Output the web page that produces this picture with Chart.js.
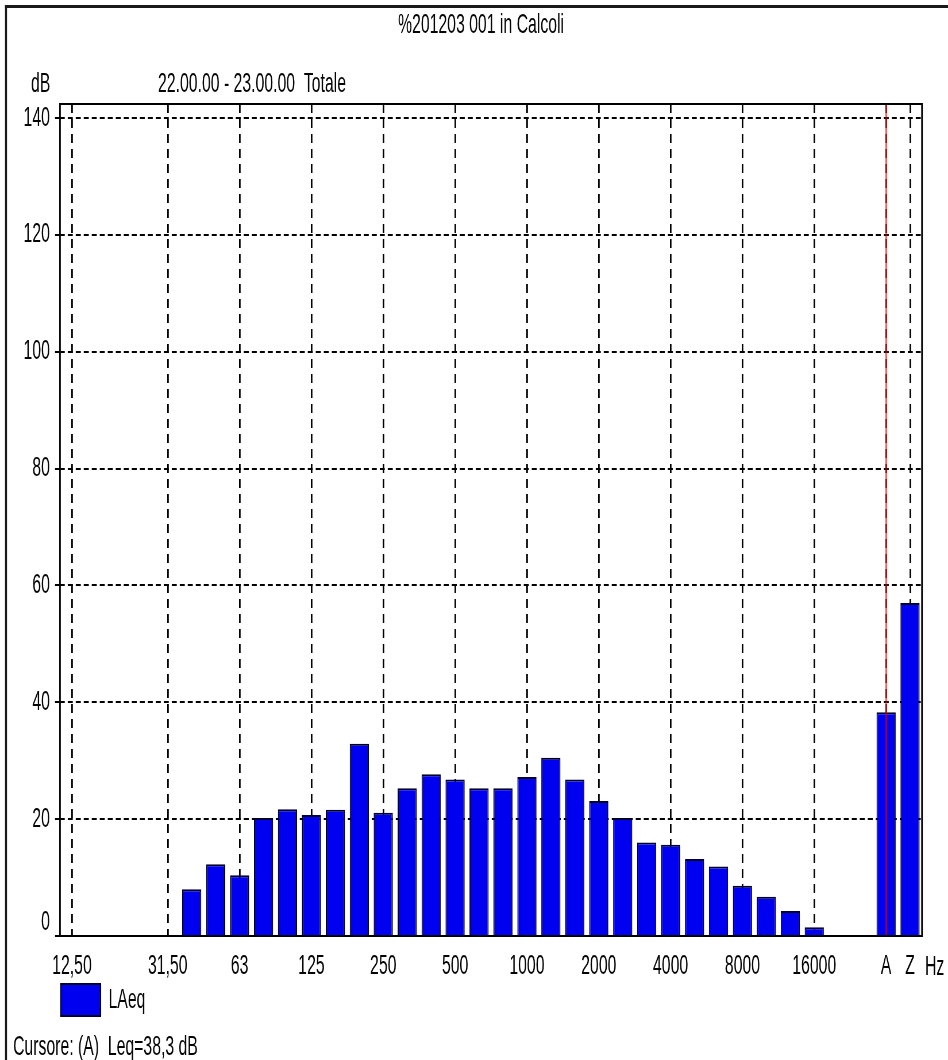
<!DOCTYPE html>
<html lang="it">
<head>
<meta charset="utf-8">
<title>%201203 001 in Calcoli</title>
<script src="https://cdn.jsdelivr.net/npm/chart.js@4.4.1/dist/chart.umd.min.js"></script>
<style>
    html, body { margin: 0; padding: 0; background: #fff; }
</style>
</head>
<body>
<!-- drawn 1650 wide and squeezed to 948px: the original screenshot is narrow-stretched -->
<canvas id="spectrum" width="1650" height="1060" style="width:948px;height:1060px"></canvas>
<script>
const SX = 1650 / 948;
const hx = v => v * SX; // screen x (px) -> canvas x

// 1/3 octave bands, an empty slot, then the A and Z weighted totals
const bands = ['12,50', '16', '20', '25', '31,50', '40', '50', '63', '80', '100', '125', '160',
    '200', '250', '315', '400', '500', '630', '800', '1000', '1250', '1600', '2000', '2500',
    '3150', '4000', '5000', '6300', '8000', '10000', '12500', '16000', '20000', '', 'A', 'Z'];
const labelledBands = ['12,50', '31,50', '63', '125', '250', '500', '1000', '2000', '4000',
    '8000', '16000', 'A', 'Z'];
const laeq = [null, null, null, null, null, 8.0, 12.3, 10.4, 20.2, 21.7, 20.7, 21.6,
    32.9, 21.1, 25.3, 27.7, 26.8, 25.3, 25.3, 27.2, 30.5, 26.8, 23.1, 20.2,
    16.0, 15.6, 13.2, 11.9, 8.6, 6.7, 4.3, 1.5, null, null, 38.3, 57.0];
const yMax = 142.4;
const yStep = 20;
const cursorBand = 'A';

const titleText = '%201203 001 in Calcoli';
const periodText = '22.00.00 - 23.00.00  Totale';
const yUnitText = 'dB';
const xUnitText = 'Hz';
const cursorText = 'Cursore: (A)  Leq=38,3 dB';

const FONT_SIZE = 27.5;
const FONT = FONT_SIZE + "px 'Liberation Sans', Arial, sans-serif";
const INK = '#050505';

Chart.defaults.font.family = "'Liberation Sans', Arial, sans-serif";
Chart.defaults.font.size = FONT_SIZE;
Chart.defaults.font.lineHeight = 1;
Chart.defaults.color = INK;

/**
 * Window frame, plot frame, cursor line and loose texts
 */
const decorPlugin = {
    id: 'decor',
    afterDatasetsDraw(chart) {
        const { ctx, chartArea: a, scales: { x } } = chart;
        ctx.save();

        // cursor on the A band
        const cx = x.getPixelForValue(bands.indexOf(cursorBand));
        ctx.strokeStyle = '#e00000';
        ctx.lineWidth = hx(1);
        ctx.beginPath();
        ctx.moveTo(cx, a.top);
        ctx.lineTo(cx, a.bottom);
        ctx.stroke();

        // plot frame
        ctx.strokeStyle = '#000';
        ctx.lineWidth = 2;
        ctx.beginPath();
        ctx.moveTo(a.left, a.top); ctx.lineTo(a.right, a.top);
        ctx.moveTo(a.left, a.bottom); ctx.lineTo(a.right, a.bottom);
        ctx.stroke();
        ctx.lineWidth = hx(1.6);
        ctx.beginPath();
        ctx.moveTo(a.left, a.top - 1); ctx.lineTo(a.left, a.bottom + 1);
        ctx.moveTo(a.right, a.top - 1); ctx.lineTo(a.right, a.bottom + 1);
        ctx.stroke();
        ctx.restore();
    },
    afterDraw(chart) {
        const { ctx, width, height } = chart;
        ctx.save();

        ctx.fillStyle = '#1a1a1a';
        ctx.fillRect(hx(5), 5, width - hx(5), 3);
        ctx.fillRect(hx(5), 5, hx(2), height - 5);

        ctx.fillStyle = INK;
        ctx.font = FONT;
        ctx.textBaseline = 'middle';
        ctx.textAlign = 'center';
        ctx.fillText(titleText, hx(481), 25.5);
        ctx.textAlign = 'left';
        ctx.fillText(yUnitText, hx(31), 84.5);
        ctx.fillText(periodText, hx(158), 84.5);
        ctx.fillText(xUnitText, hx(925), 967);
        ctx.fillText(cursorText, hx(13), 1047);
        ctx.restore();
    }
};

new Chart(document.getElementById('spectrum'), {
    type: 'bar',
    data: {
        labels: bands,
        datasets: [{
            label: 'LAeq',
            data: laeq,
            backgroundColor: '#0000f0',
            borderColor: '#00002a',
            borderWidth: 2,
            barPercentage: 0.8,
            categoryPercentage: 1
        }]
    },
    options: {
        responsive: false,
        devicePixelRatio: 1,
        animation: false,
        events: [],
        layout: {
            padding: { left: hx(20), right: 1650 - hx(922), top: 104, bottom: 34 }
        },
        plugins: {
            title: { display: false },
            tooltip: { enabled: false },
            legend: {
                position: 'bottom',
                align: 'start',
                fullSize: false,
                labels: {
                    boxWidth: hx(40),
                    boxHeight: 32,
                    padding: 1,
                    color: INK
                }
            }
        },
        scales: {
            x: {
                offset: true,
                border: { display: false, dash: [9, 6] },
                grid: {
                    offset: false,
                    drawTicks: false,
                    lineWidth: hx(1.6),
                    color: c => labelledBands.includes(bands[c.index]) ? '#000' : 'rgba(0,0,0,0)'
                },
                ticks: {
                    autoSkip: false,
                    maxRotation: 0,
                    minRotation: 0,
                    padding: 17,
                    color: INK,
                    callback: (v, i) => labelledBands.includes(bands[i]) ? bands[i] : ''
                },
                afterFit: s => { s.height = 47; }
            },
            y: {
                min: 0,
                max: yMax,
                border: { display: false, dash: [hx(5), hx(3)] },
                grid: {
                    lineWidth: 2,
                    color: c => c.tick.value === 0 ? 'rgba(0,0,0,0)' : '#000',
                    tickLength: hx(5),
                    tickColor: '#000',
                    tickWidth: 2
                },
                ticks: {
                    stepSize: yStep,
                    includeBounds: false,
                    padding: 9,
                    color: INK,
                    // the 0 label sits raised above the axis in the original
                    callback: v => v === 0 ? ['0', ''] : String(v)
                },
                afterFit: s => { s.width = hx(40); }
            }
        }
    },
    plugins: [decorPlugin]
});
</script>
</body>
</html>
